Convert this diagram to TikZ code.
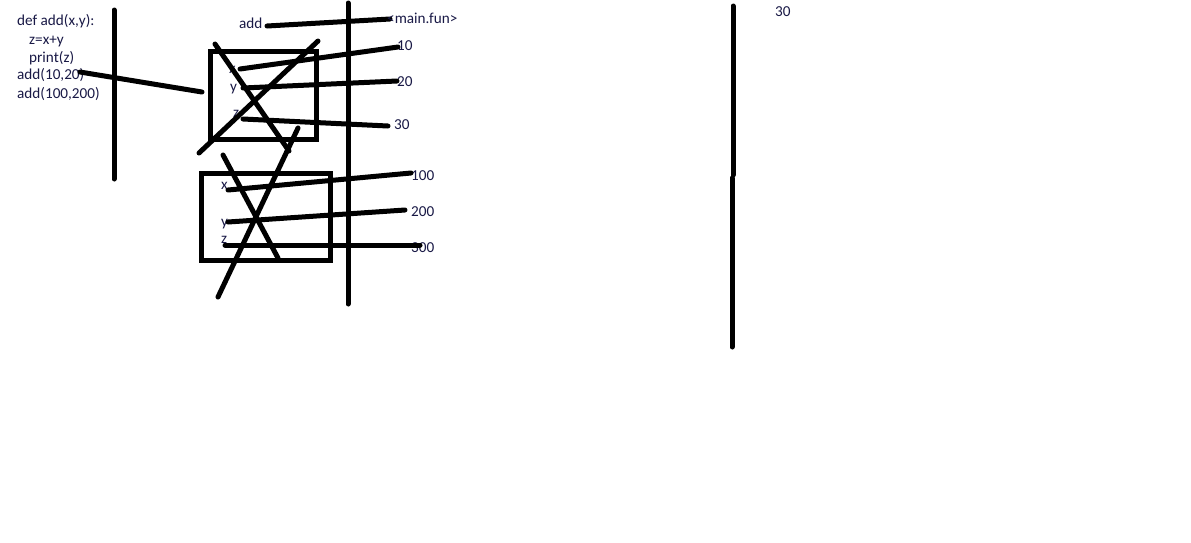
\documentclass[tikz,border=0pt]{standalone}
\usepackage{fontspec}
\setmainfont{Carlito}
\definecolor{textcol}{RGB}{25,25,70}
\begin{document}
\begin{tikzpicture}[
    x=1pt, y=-1pt,
    stroke/.style={line width=5pt, line cap=round, draw=black},
    framebox/.style={line width=5pt, draw=black},
    lbl/.style={font=\fontsize{15.2}{18}\selectfont, text=textcol, inner sep=0pt, anchor=base west}
]
    % Canvas
    \fill[white] (0,0) rectangle (1191,542);
    \useasboundingbox (0,0) rectangle (1191,542);

    % Source code
    \node[lbl] (def) at (17,25) {def add(x,y):};
    \node[lbl] (body) at (29,44) {z=x+y};
    \node[lbl] (prt) at (29,62) {print(z)};
    \node[lbl] (call1) at (17,79) {add(10,20)};
    \node[lbl] (call2) at (17,98) {add(100,200)};

    % Dividers
    \draw[stroke] (114,10) -- (114,179);
    \draw[stroke] (348,3) -- (348,304);
    \draw[stroke] (733,6) -- (733,175);
    \draw[stroke] (732,178) -- (732,347);

    % Global frame
    \node[lbl] (addname) at (239,28) {add};
    \draw[stroke] (267,26) -- (390,19);
    \node[lbl] (mainfun) at (387,23) {<main.fun>};

    % First call frame
    \draw[framebox] (210,51) rectangle (316,139);
    \node[lbl] (x1) at (229,73) {x};
    \node[lbl] (y1) at (230,91) {y};
    \node[lbl] (z1) at (233,117) {z};
    \node[lbl] (v10) at (397,50) {10};
    \node[lbl] (v20) at (397,86) {20};
    \node[lbl] (v30) at (394,129) {30};
    \draw[stroke] (80,72) -- (202,92);
    \draw[stroke] (240,69) -- (398,47);
    \draw[stroke] (243,88) -- (397,81);
    \draw[stroke] (243,119) -- (388,126);
    \draw[stroke] (215,44) -- (289,151);
    \draw[stroke] (318,41) -- (199,153);

    % Second call frame
    \draw[framebox] (201,173) rectangle (330,260);
    \node[lbl] (x2) at (221,189) {x};
    \node[lbl] (y2) at (221,226) {y};
    \node[lbl] (z2) at (221,243) {z};
    \node[lbl] (v100) at (411,180) {100};
    \node[lbl] (v200) at (411,216) {200};
    \node[lbl] (v300) at (411,252) {300};
    \draw[stroke] (228,190) -- (411,173);
    \draw[stroke] (228,222) -- (405,210);
    \draw[stroke] (225,245) -- (420,245);
    \draw[stroke] (298,128) -- (218,297);
    \draw[stroke] (223,155) -- (278,258);

    % Output
    \node[lbl] (out) at (775,16) {30};
\end{tikzpicture}
\end{document}
